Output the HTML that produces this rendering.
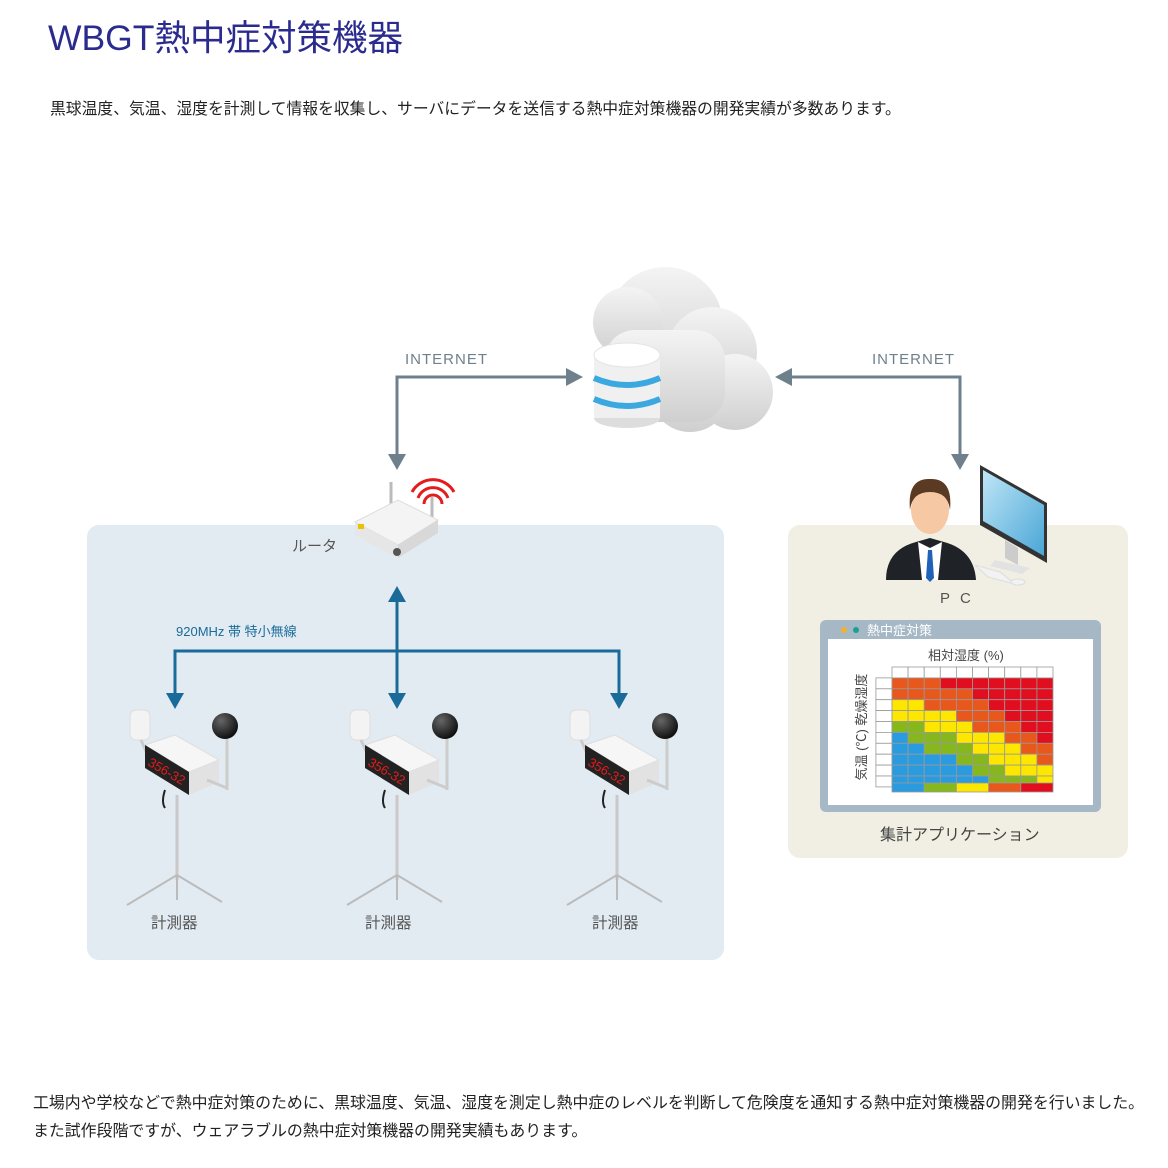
<!DOCTYPE html>
<html><head><meta charset="utf-8"><style>
body{margin:0;background:#fff;width:1168px;height:1168px;overflow:hidden;font-family:"Liberation Sans","Noto Sans CJK JP",sans-serif;}
svg{position:absolute;left:0;top:0}
</style></head><body>
<svg id="s" width="1168" height="1168" viewBox="0 0 1168 1168" xmlns="http://www.w3.org/2000/svg" font-family="Liberation Sans, Noto Sans CJK JP, sans-serif">
<defs>
<radialGradient id="ball" cx="0.35" cy="0.3" r="0.7"><stop offset="0" stop-color="#666"/><stop offset="1" stop-color="#111"/></radialGradient>
<linearGradient id="cl" x1="0" y1="0" x2="0" y2="1"><stop offset="0" stop-color="#f4f4f4"/><stop offset="1" stop-color="#cfcfcf"/></linearGradient>
<linearGradient id="scr" x1="0" y1="0" x2="1" y2="1"><stop offset="0" stop-color="#bfe6f7"/><stop offset="1" stop-color="#4aa6d6"/></linearGradient>
<g id="sensor">
 <line x1="50" y1="85" x2="50" y2="170" stroke="#c9c9c9" stroke-width="3"/>
 <line x1="50" y1="165" x2="0" y2="195" stroke="#bbb" stroke-width="2"/>
 <line x1="50" y1="165" x2="95" y2="192" stroke="#bbb" stroke-width="2"/>
 <line x1="50" y1="165" x2="50" y2="190" stroke="#bbb" stroke-width="2"/>
 <path d="M38 80 q-4 12 0 18" stroke="#222" stroke-width="2" fill="none"/>
 <rect x="3" y="0" width="20" height="30" rx="6" fill="#f3f3f3" stroke="#ddd"/>
 <line x1="14" y1="30" x2="22" y2="48" stroke="#ccc" stroke-width="3"/>
 <polygon points="18,35 48,25 92,50 62,62" fill="#f6f6f6" stroke="#ddd"/>
 <polygon points="62,62 92,50 92,72 62,85" fill="#e2e2e2"/>
 <polygon points="18,35 62,62 62,85 18,58" fill="#222"/>
 <text x="20" y="55" fill="#e41b1b" font-size="13" transform="rotate(30 20 55)">356-32</text>
 <line x1="80" y1="70" x2="100" y2="78" stroke="#ccc" stroke-width="3"/>
 <line x1="100" y1="20" x2="100" y2="80" stroke="#ccc" stroke-width="3"/>
 <circle cx="98" cy="16" r="13" fill="url(#ball)"/>
</g>
</defs>
<text x="48" y="50" font-size="35.5" fill="#2b2b8f">WBGT熱中症対策機器</text>
<text x="50" y="114" font-size="15.8" fill="#222">黒球温度、気温、湿度を計測して情報を収集し、サーバにデータを送信する熱中症対策機器の開発実績が多数あります。</text>

<rect x="87" y="525" width="637" height="435" rx="12" fill="#e2ebf2"/>
<rect x="788" y="525" width="340" height="333" rx="12" fill="#f1efe3"/>

<g stroke="#6f808d" stroke-width="3" fill="none">
<polyline points="570,377 397,377 397,458"/>
<polyline points="790,377 960,377 960,458"/>
</g>
<g fill="#6f808d">
<polygon points="583,377 566,368 566,386"/>
<polygon points="397,470 388,454 406,454"/>
<polygon points="775,377 792,368 792,386"/>
<polygon points="960,470 951,454 969,454"/>
</g>
<text x="405" y="364" font-size="15" fill="#6f808d" letter-spacing="1">INTERNET</text>
<text x="872" y="364" font-size="15" fill="#6f808d" letter-spacing="1">INTERNET</text>

<g fill="url(#cl)">
<circle cx="665" cy="325" r="58"/>
<circle cx="628" cy="322" r="35"/>
<circle cx="712" cy="352" r="45"/>
<circle cx="735" cy="392" r="38"/>
<circle cx="690" cy="392" r="40"/>
<rect x="605" y="330" width="120" height="92" rx="30"/>
</g>
<g>
<ellipse cx="627" cy="418" rx="33" ry="10" fill="#ddd"/>
<rect x="594" y="355" width="66" height="63" fill="#f0f0f0"/>
<ellipse cx="627" cy="355" rx="33" ry="12" fill="#fff" stroke="#e4e4e4"/>
<path d="M594 378 q33 14 66 0" stroke="#3ba9e0" stroke-width="6" fill="none"/>
<path d="M594 399 q33 14 66 0" stroke="#3ba9e0" stroke-width="6" fill="none"/>
</g>

<g>
<line x1="391" y1="482" x2="391" y2="505" stroke="#bbb" stroke-width="3"/>
<line x1="432" y1="497" x2="432" y2="522" stroke="#bbb" stroke-width="3"/>
<polygon points="355,522 398,500 438,520 398,545" fill="#f4f4f4" stroke="#ddd"/>
<polygon points="355,522 398,545 398,558 355,535" fill="#e6e6e6"/>
<polygon points="398,545 438,520 438,533 398,558" fill="#d8d8d8"/>
<circle cx="397" cy="552" r="4" fill="#555"/>
<rect x="358" y="524" width="6" height="5" fill="#e8c300"/>
<path d="M412 492 a24 24 0 0 1 42 0 M418 498 a16 16 0 0 1 30 0 M424 504 a8 8 0 0 1 18 0" stroke="#e31d1d" stroke-width="3" fill="none"/>
</g>
<text x="292" y="551" font-size="15" fill="#555">ルータ</text>

<g stroke="#1a6b9a" stroke-width="3" fill="none">
<line x1="397" y1="600" x2="397" y2="696"/>
<polyline points="175,696 175,651 619,651 619,696"/>
</g>
<g fill="#1a6b9a">
<polygon points="397,586 388,602 406,602"/>
<polygon points="397,709 388,693 406,693"/>
<polygon points="175,709 166,693 184,693"/>
<polygon points="619,709 610,693 628,693"/>
</g>
<text x="176" y="636" font-size="13" fill="#1a6b9a">920MHz 帯 特小無線</text>

<use href="#sensor" x="127" y="710"/>
<use href="#sensor" x="347" y="710"/>
<use href="#sensor" x="567" y="710"/>
<text x="151" y="928" font-size="15.5" fill="#555">計測器</text>
<text x="365" y="928" font-size="15.5" fill="#555">計測器</text>
<text x="592" y="928" font-size="15.5" fill="#555">計測器</text>

<g>
<path d="M886 580 q0 -30 30 -38 l14 -4 l14 4 q30 8 32 38 z" fill="#1f2226"/>
<polygon points="918,542 930,548 942,542 938,580 922,580" fill="#fff"/>
<polygon points="928,550 932,550 934,578 930,582 926,578" fill="#1f62b8"/>
<ellipse cx="930" cy="510" rx="19" ry="24" fill="#f6c8a4"/>
<path d="M910 510 q-3 -32 20 -31 q23 -1 20 31 q-2 -18 -20 -18 q-18 0 -20 18z" fill="#5a3a22"/>
</g>
<g>
<polygon points="1005,540 1018,548 1018,565 1005,558" fill="#ccc"/>
<polygon points="995,560 1030,568 1022,574 990,566" fill="#e2e2e2"/>
<polygon points="980,465 1047,503 1047,563 980,525" fill="#333"/>
<polygon points="983,470 1044,505 1044,556 983,521" fill="url(#scr)"/>
<polygon points="975,565 1000,572 1015,584 988,577" fill="#f2f2f2" stroke="#ddd"/>
<ellipse cx="1018" cy="582" rx="7" ry="3" fill="#f2f2f2" stroke="#ddd"/>
</g>
<text x="940" y="603" font-size="15" fill="#555" letter-spacing="10">PC</text>

<rect x="820" y="620" width="281" height="192" rx="6" fill="#a6b8c6"/>
<rect x="828" y="639" width="265" height="166" fill="#fff"/>
<circle cx="844" cy="630" r="3" fill="#f0b030"/>
<circle cx="856" cy="630" r="3" fill="#1aa090"/>
<text x="867" y="635" font-size="13" fill="#fff">熱中症対策</text>
<text x="928" y="660" font-size="13" fill="#444">相対湿度 (%)</text>
<text x="866" y="727" font-size="13" fill="#444" transform="rotate(-90 866 727)" text-anchor="middle">気温 (℃) 乾燥湿度</text>
<g id="grid"></g>
<text x="880" y="840" font-size="16" fill="#444">集計アプリケーション</text>

<text x="33" y="1108" font-size="15.9" fill="#222">工場内や学校などで熱中症対策のために、黒球温度、気温、湿度を測定し熱中症のレベルを判断して危険度を通知する熱中症対策機器の開発を行いました。</text>
<text x="33" y="1136" font-size="15.9" fill="#222">また試作段階ですが、ウェアラブルの熱中症対策機器の開発実績もあります。</text>
</svg>
<script>
var rows=["OOORRRRRRR","OOOOORRRRR","YYOOOORRRR","YYYYOOORRR","GGYYYOOORR","BGGGYYYOOR","BBGGGYYYOO","BBBBGGYYYO","BBBBBGGYYY","BBBBBBGGGY"];
var col={O:"#e8581c",R:"#e10e1f",Y:"#fde600",G:"#86b81e",B:"#2b9be0",W:"#fff"};
var g=document.getElementById("grid"),h="";
var x0=892,y0=667,cw=16.1,rh=10.9;
function r(x,y,w,hh,c){h+='<rect x="'+x+'" y="'+y+'" width="'+w+'" height="'+hh+'" fill="'+c+'" stroke="#999" stroke-width="0.8"/>';}
for(var c=0;c<10;c++)r(x0+c*cw,y0,cw,rh,"#fff");
for(var i=0;i<10;i++){r(x0-cw,y0+(i+1)*rh,cw,rh,"#fff");for(var c=0;c<10;c++)r(x0+c*cw,y0+(i+1)*rh,cw,rh,col[rows[i][c]]);}
var lc=["B","G","Y","O","R"];for(var k=0;k<5;k++)r(x0+k*cw*2,783,cw*2,9,col[lc[k]]);
g.innerHTML=h;
</script>
</body></html>
